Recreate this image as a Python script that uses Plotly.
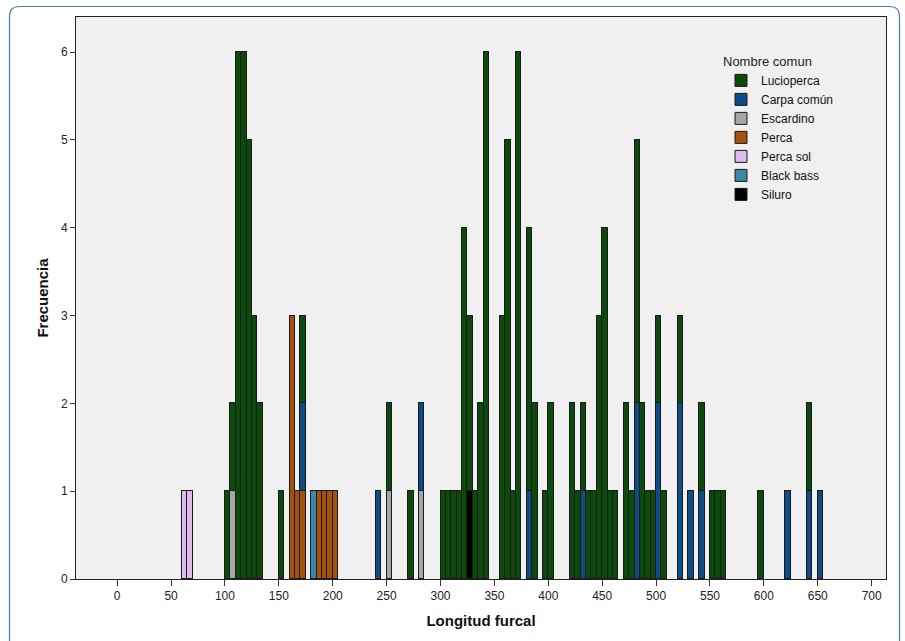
import plotly.graph_objects as go

# Fork length histogram (5 mm bins), stacked by species.
BIN_WIDTH = 5

# species names in legend order
species = ["Lucioperca", "Carpa común", "Escardino", "Perca", "Perca sol", "Black bass", "Siluro"]

# bin start (mm) and frequency per species
lucioperca_bins = [100, 105, 110, 115, 120, 125, 130, 150, 170, 250, 270, 300, 305, 310, 315,
                   320, 325, 330, 335, 340, 355, 360, 365, 370, 380, 385, 395, 400, 420, 425,
                   430, 435, 440, 445, 450, 455, 460, 470, 475, 480, 485, 490, 495, 500, 505,
                   520, 540, 550, 555, 560, 595, 640]
lucioperca_counts = [1, 1, 6, 6, 5, 3, 2, 1, 1, 1, 1, 1, 1, 1, 1,
                     4, 2, 1, 2, 6, 3, 5, 1, 6, 3, 2, 1, 2, 2, 1,
                     1, 1, 1, 3, 4, 1, 1, 2, 1, 3, 2, 1, 1, 1, 1,
                     1, 1, 1, 1, 1, 1, 1]

carpa_bins = [170, 240, 280, 380, 430, 480, 500, 520, 530, 540, 620, 640, 650]
carpa_counts = [1, 1, 1, 1, 1, 2, 2, 2, 1, 1, 1, 1, 1]

escardino_bins = [105, 250, 280]
escardino_counts = [1, 1, 1]

perca_bins = [160, 165, 170, 185, 190, 195, 200]
perca_counts = [3, 1, 1, 1, 1, 1, 1]

perca_sol_bins = [60, 65]
perca_sol_counts = [1, 1]

black_bass_bins = [180]
black_bass_counts = [1]

siluro_bins = [325]
siluro_counts = [1]

x_ticks = [0, 50, 100, 150, 200, 250, 300, 350, 400, 450, 500, 550, 600, 650, 700]
y_ticks = [0, 1, 2, 3, 4, 5, 6]

series = {
    "Lucioperca": (lucioperca_bins, lucioperca_counts, "#0c4a0c"),
    "Carpa común": (carpa_bins, carpa_counts, "#0d4c86"),
    "Escardino": (escardino_bins, escardino_counts, "#a6a6a6"),
    "Perca": (perca_bins, perca_counts, "#a3510e"),
    "Perca sol": (perca_sol_bins, perca_sol_counts, "#e0baee"),
    "Black bass": (black_bass_bins, black_bass_counts, "#3b89a8"),
    "Siluro": (siluro_bins, siluro_counts, "#000000"),
}

fig = go.Figure()
# bottom of the stack is the last legend entry
for name in reversed(species):
    bins, counts, color = series[name]
    fig.add_trace(go.Bar(
        name=name,
        x=[b + BIN_WIDTH / 2 for b in bins],
        y=counts,
        width=BIN_WIDTH,
        marker=dict(color=color, line=dict(color="#1a1a1a", width=1)),
    ))

W, H = 905, 641
L, R, T, B = 76, 19, 17, 62
pw, ph = W - L - R, H - T - B


def px(xp):
    return (xp - L) / pw


def py(yp):
    return (H - B - yp) / ph


# rounded frame around the whole chart
x0, x1, y0, y1, r = px(9.5), px(899.5), py(6.5), py(648), 10
rx, ry = r / pw, r / ph
frame = (f"M{x0},{y1} L{x0},{y0 - ry} Q{x0},{y0} {x0 + rx},{y0} "
         f"L{x1 - rx},{y0} Q{x1},{y0} {x1},{y0 - ry} L{x1},{y1}")

font_family = "Liberation Sans, Arial, sans-serif"

fig.update_layout(
    width=W, height=H,
    margin=dict(l=L, r=R, t=T, b=B),
    barmode="stack",
    bargap=0,
    paper_bgcolor="white",
    plot_bgcolor="#f0f0f0",
    font=dict(family=font_family, size=12, color="#222222"),
    shapes=[dict(type="path", path=frame, xref="paper", yref="paper",
                 line=dict(color="#4d7fae", width=1.2), layer="below")],
    legend=dict(
        title=dict(text="Nombre comun", font=dict(size=13, color="#222222")),
        traceorder="reversed",
        x=px(721), xanchor="left",
        y=py(49), yanchor="top",
        bgcolor="rgba(0,0,0,0)",
        font=dict(size=12, color="#111111"),
        itemwidth=30,
    ),
    xaxis=dict(
        range=[-38.2, 713.3],
        tickmode="array", tickvals=x_ticks, ticktext=[str(v) for v in x_ticks],
        ticks="outside", ticklen=6, tickcolor="#333333",
        showline=True, linecolor="#222222", linewidth=1, mirror=True,
        showgrid=False, zeroline=False,
        title=dict(text="<b>Longitud furcal</b>", font=dict(size=15, color="#111111"), standoff=13),
    ),
    yaxis=dict(
        range=[0, 6.4],
        tickmode="array", tickvals=y_ticks, ticktext=[str(v) for v in y_ticks],
        ticks="outside", ticklen=5, tickcolor="#333333",
        showline=True, linecolor="#222222", linewidth=1, mirror=True,
        showgrid=False, zeroline=False,
        title=dict(text="<b>Frecuencia</b>", font=dict(size=15, color="#111111"), standoff=8),
    ),
)

fig.write_html("out.html")
